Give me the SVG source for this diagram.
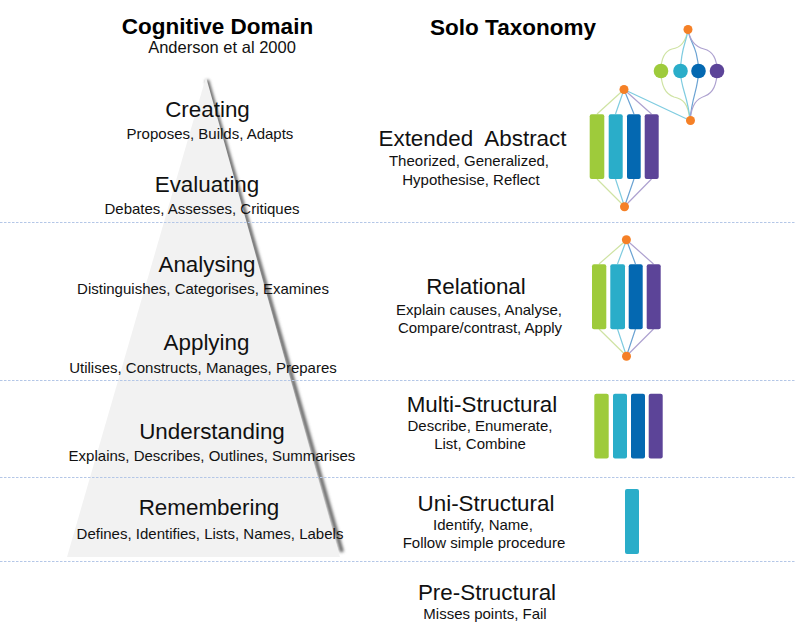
<svg xmlns="http://www.w3.org/2000/svg" width="795" height="622" viewBox="0 0 795 622">
<style>
text{font-family:"Liberation Sans",Arial,sans-serif;text-anchor:middle;fill:#111}
.h{font-size:22.500px;font-weight:bold;fill:#000}
.t{font-size:22.400px}
.s{font-size:15px}
.sep{stroke:#b4c7e7;stroke-width:1;stroke-dasharray:2.5 1.5;fill:none}
.or{fill:#f58026}
.g{fill:#9ecb3b}.c{fill:#2aadc9}.b{fill:#0468b1}.p{fill:#5c4498}
.lg,.lc,.lb,.lp{fill:none;stroke-width:1.200}
.lg{stroke:#cfe3a3}.lc{stroke:#7fcce0}.lb{stroke:#6ba3d3}.lp{stroke:#aea2d0}
</style>
<defs>
<filter id="blur" x="-50%" y="-5%" width="200%" height="110%"><feGaussianBlur stdDeviation="1.500"/></filter>
</defs>
<g id="pyramid">
<path d="M207 80L342 552" stroke="#666" stroke-width="4" fill="none" filter="url(#blur)"/>
<path d="M206 77L340 557H67Z" fill="#f2f2f2"/>
</g>
<g id="separators">
<path class="sep" d="M0 222.500H795M0 380.500H795M0 477.500H795M0 561.500H795"/>
</g>
<g id="connectors">
<path class="lg" d="M688 29C686 42 680 48 672 49C665 51 661 57 661 71C661 85 665 94 674 97C683 99 688 103 690 120"/>
<path class="lc" d="M688 29C687 42 681 46 680.500 71C680.500 88 688 96 690 120"/>
<path class="lb" d="M688 29C689 42 698 46 698.500 71C698.500 88 692 96 690 120"/>
<path class="lp" d="M688 29C690 42 696 47 704 49C712 51 717 57 717 71C717 85 713 93 705 96C697 99 692 103 690 120"/>
<path class="lc" d="M624 89.500L690 120.500"/>
<path class="lg" d="M624 89.500L597 114M597 179L624.500 206.500"/>
<path class="lc" d="M624 89.500L615.500 114M615.500 179L624.500 206.500"/>
<path class="lb" d="M624 89.500L634 114M634 179L624.500 206.500"/>
<path class="lp" d="M624 89.500L651.500 114M651.500 179L624.500 206.500"/>
<path class="lg" d="M626.500 240L599 264M599 329L626.500 356"/>
<path class="lc" d="M626.500 240L617.500 264M617.500 329L626.500 356"/>
<path class="lb" d="M626.500 240L635.500 264M635.500 329L626.500 356"/>
<path class="lp" d="M626.500 240L653.500 264M653.500 329L626.500 356"/>
</g>
<g id="cognitive-title"><text class="h" x="217.500" y="34">Cognitive Domain</text><text x="222" y="53" font-size="16.500">Anderson et al 2000</text></g>
<g id="solo-title"><text class="h" x="513" y="35">Solo Taxonomy</text></g>
<g id="creating"><text class="t" x="207.500" y="117">Creating</text><text class="s" x="210" y="139">Proposes, Builds, Adapts</text></g>
<g id="evaluating"><text class="t" x="207" y="192">Evaluating</text><text class="s" x="202" y="214">Debates, Assesses, Critiques</text></g>
<g id="analysing"><text class="t" x="207" y="272">Analysing</text><text class="s" x="203" y="294">Distinguishes, Categorises, Examines</text></g>
<g id="applying"><text class="t" x="206.500" y="350">Applying</text><text class="s" x="203" y="373">Utilises, Constructs, Manages, Prepares</text></g>
<g id="understanding"><text class="t" x="212" y="439">Understanding</text><text class="s" x="212" y="461">Explains, Describes, Outlines, Summarises</text></g>
<g id="remembering"><text class="t" x="209" y="515">Remembering</text><text class="s" x="210" y="539">Defines, Identifies, Lists, Names, Labels</text></g>
<g id="extended-abstract">
<text class="t" x="472.500" y="146" xml:space="preserve">Extended  Abstract</text>
<text class="s" x="469" y="166">Theorized, Generalized,</text>
<text class="s" x="471" y="185">Hypothesise, Reflect</text>
</g>
<g id="relational">
<text class="t" x="476" y="294">Relational</text>
<text class="s" x="479" y="315">Explain causes, Analyse,</text>
<text class="s" x="480" y="333">Compare/contrast, Apply</text>
</g>
<g id="multi-structural">
<text class="t" x="482" y="412">Multi-Structural</text>
<text class="s" x="480" y="431">Describe, Enumerate,</text>
<text class="s" x="480" y="449">List, Combine</text>
</g>
<g id="uni-structural">
<text class="t" x="486" y="511">Uni-Structural</text>
<text class="s" x="483" y="530">Identify, Name,</text>
<text class="s" x="484" y="548">Follow simple procedure</text>
</g>
<g id="pre-structural">
<text class="t" x="487" y="600">Pre-Structural</text>
<text class="s" x="485" y="618.500">Misses points, Fail</text>
</g>
<g id="fig-circles">
<circle class="or" cx="688" cy="29.500" r="4.500"/>
<circle class="or" cx="690.500" cy="120.500" r="4.500"/>
<circle class="g" cx="661" cy="71" r="7.300"/>
<circle class="c" cx="680.500" cy="71" r="7.300"/>
<circle class="b" cx="698.500" cy="71" r="7.300"/>
<circle class="p" cx="717" cy="71" r="7.300"/>
</g>
<g id="fig-extended">
<circle class="or" cx="624" cy="89.500" r="4.500"/>
<circle class="or" cx="624.500" cy="206.700" r="4.500"/>
<rect class="g" x="589.700" y="114.300" width="14.600" height="64.700" rx="2"/>
<rect class="c" x="608.700" y="114.300" width="14" height="64.700" rx="2"/>
<rect class="b" x="627" y="114.300" width="13.700" height="64.700" rx="2"/>
<rect class="p" x="644.700" y="114.300" width="14" height="64.700" rx="2"/>
</g>
<g id="fig-relational">
<circle class="or" cx="626.400" cy="239.700" r="4.500"/>
<circle class="or" cx="626.500" cy="356.300" r="4.500"/>
<rect class="g" x="592" y="264.300" width="14.300" height="65" rx="2"/>
<rect class="c" x="610.300" y="264.300" width="14.700" height="65" rx="2"/>
<rect class="b" x="628.700" y="264.300" width="14" height="65" rx="2"/>
<rect class="p" x="646.700" y="264.300" width="14" height="65" rx="2"/>
</g>
<g id="fig-multi">
<rect class="g" x="594.300" y="393.700" width="14.400" height="64.700" rx="2"/>
<rect class="c" x="613" y="393.700" width="14" height="64.700" rx="2"/>
<rect class="b" x="631" y="393.700" width="14" height="64.700" rx="2"/>
<rect class="p" x="648.700" y="393.700" width="14" height="64.700" rx="2"/>
</g>
<g id="fig-uni">
<rect class="c" x="625" y="489" width="14" height="65" rx="2"/>
</g>
</svg>
